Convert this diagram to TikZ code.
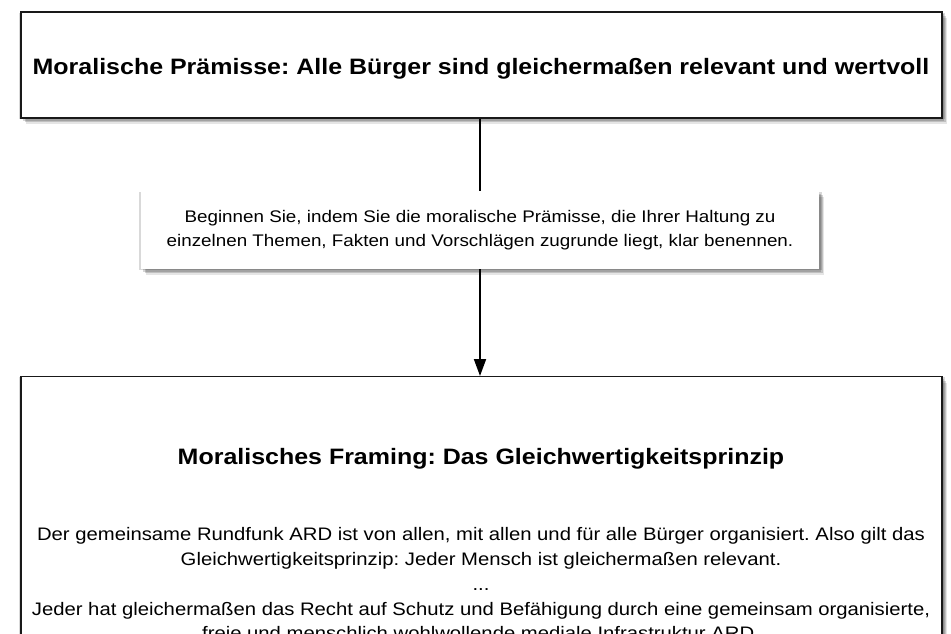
\documentclass[tikz,border=0pt]{standalone}
\usepackage{fontspec}
\setmainfont[FakeStretch=1.12]{Liberation Sans}
\usetikzlibrary{arrows.meta,shadows}

\begin{document}
\frenchspacing
\begin{tikzpicture}[x=1pt,y=-1pt,
		softshadow/.style={
			general shadow={shadow xshift=0.5pt,shadow yshift=-1pt,shadow scale=1.006,fill=black,opacity=0.15},
			general shadow={shadow xshift=2pt,shadow yshift=-2.5pt,fill=black,opacity=0.16},
			general shadow={shadow xshift=3.5pt,shadow yshift=-4pt,fill=black,opacity=0.16},
			general shadow={shadow xshift=5pt,shadow yshift=-6pt,fill=black,opacity=0.10}},
		box/.style={draw=black!90,line width=1.4pt,fill=white,rectangle,softshadow},
		plainbox/.style={draw=none,fill=white,rectangle,softshadow},
		title/.style={font=\fontsize{22.3}{27}\selectfont\bfseries},
		body/.style={font=\fontsize{18.1}{24.8}\selectfont,align=center}]

		\useasboundingbox (0,0) rectangle (951,634);
		\clip (0,0) rectangle (951,634);

		\node[box,minimum width=921pt,minimum height=106pt] (P) at (481.5, 65) {};
		\node[title] (PT) at (481, 69)
			{Moralische Prämisse: Alle Bürger sind gleichermaßen relevant und wertvoll};

		\node[plainbox,minimum width=678pt,minimum height=78pt,body,
			font=\fontsize{16.8}{24}\selectfont] (H) at (480, 230)
			{Beginnen Sie, indem Sie die moralische Prämisse, die Ihrer Haltung zu\\
			einzelnen Themen, Fakten und Vorschlägen zugrunde liegt, klar benennen.};

		\node[box,minimum width=921pt,minimum height=320pt,anchor=north] (F) at (481.5, 376) {};

		\node[title] (T) at (481, 459) {Moralisches Framing: Das Gleichwertigkeitsprinzip};
		\node[body,anchor=north] (B) at (481, 524)
			{Der gemeinsame Rundfunk ARD ist von allen, mit allen und für alle Bürger organisiert. Also gilt das\\
			Gleichwertigkeitsprinzip: Jeder Mensch ist gleichermaßen relevant.\\
			...\\
			Jeder hat gleichermaßen das Recht auf Schutz und Befähigung durch eine gemeinsam organisierte,\\
			freie und menschlich wohlwollende mediale Infrastruktur ARD.};

		\draw[line width=1.9pt] (P.south -| H.north) -- (H.north);
		\draw[line width=1.9pt,-{Triangle[width=12pt,length=17pt]}] (H.south) -- (F.north -| H.south);

	\end{tikzpicture}
\end{document}
